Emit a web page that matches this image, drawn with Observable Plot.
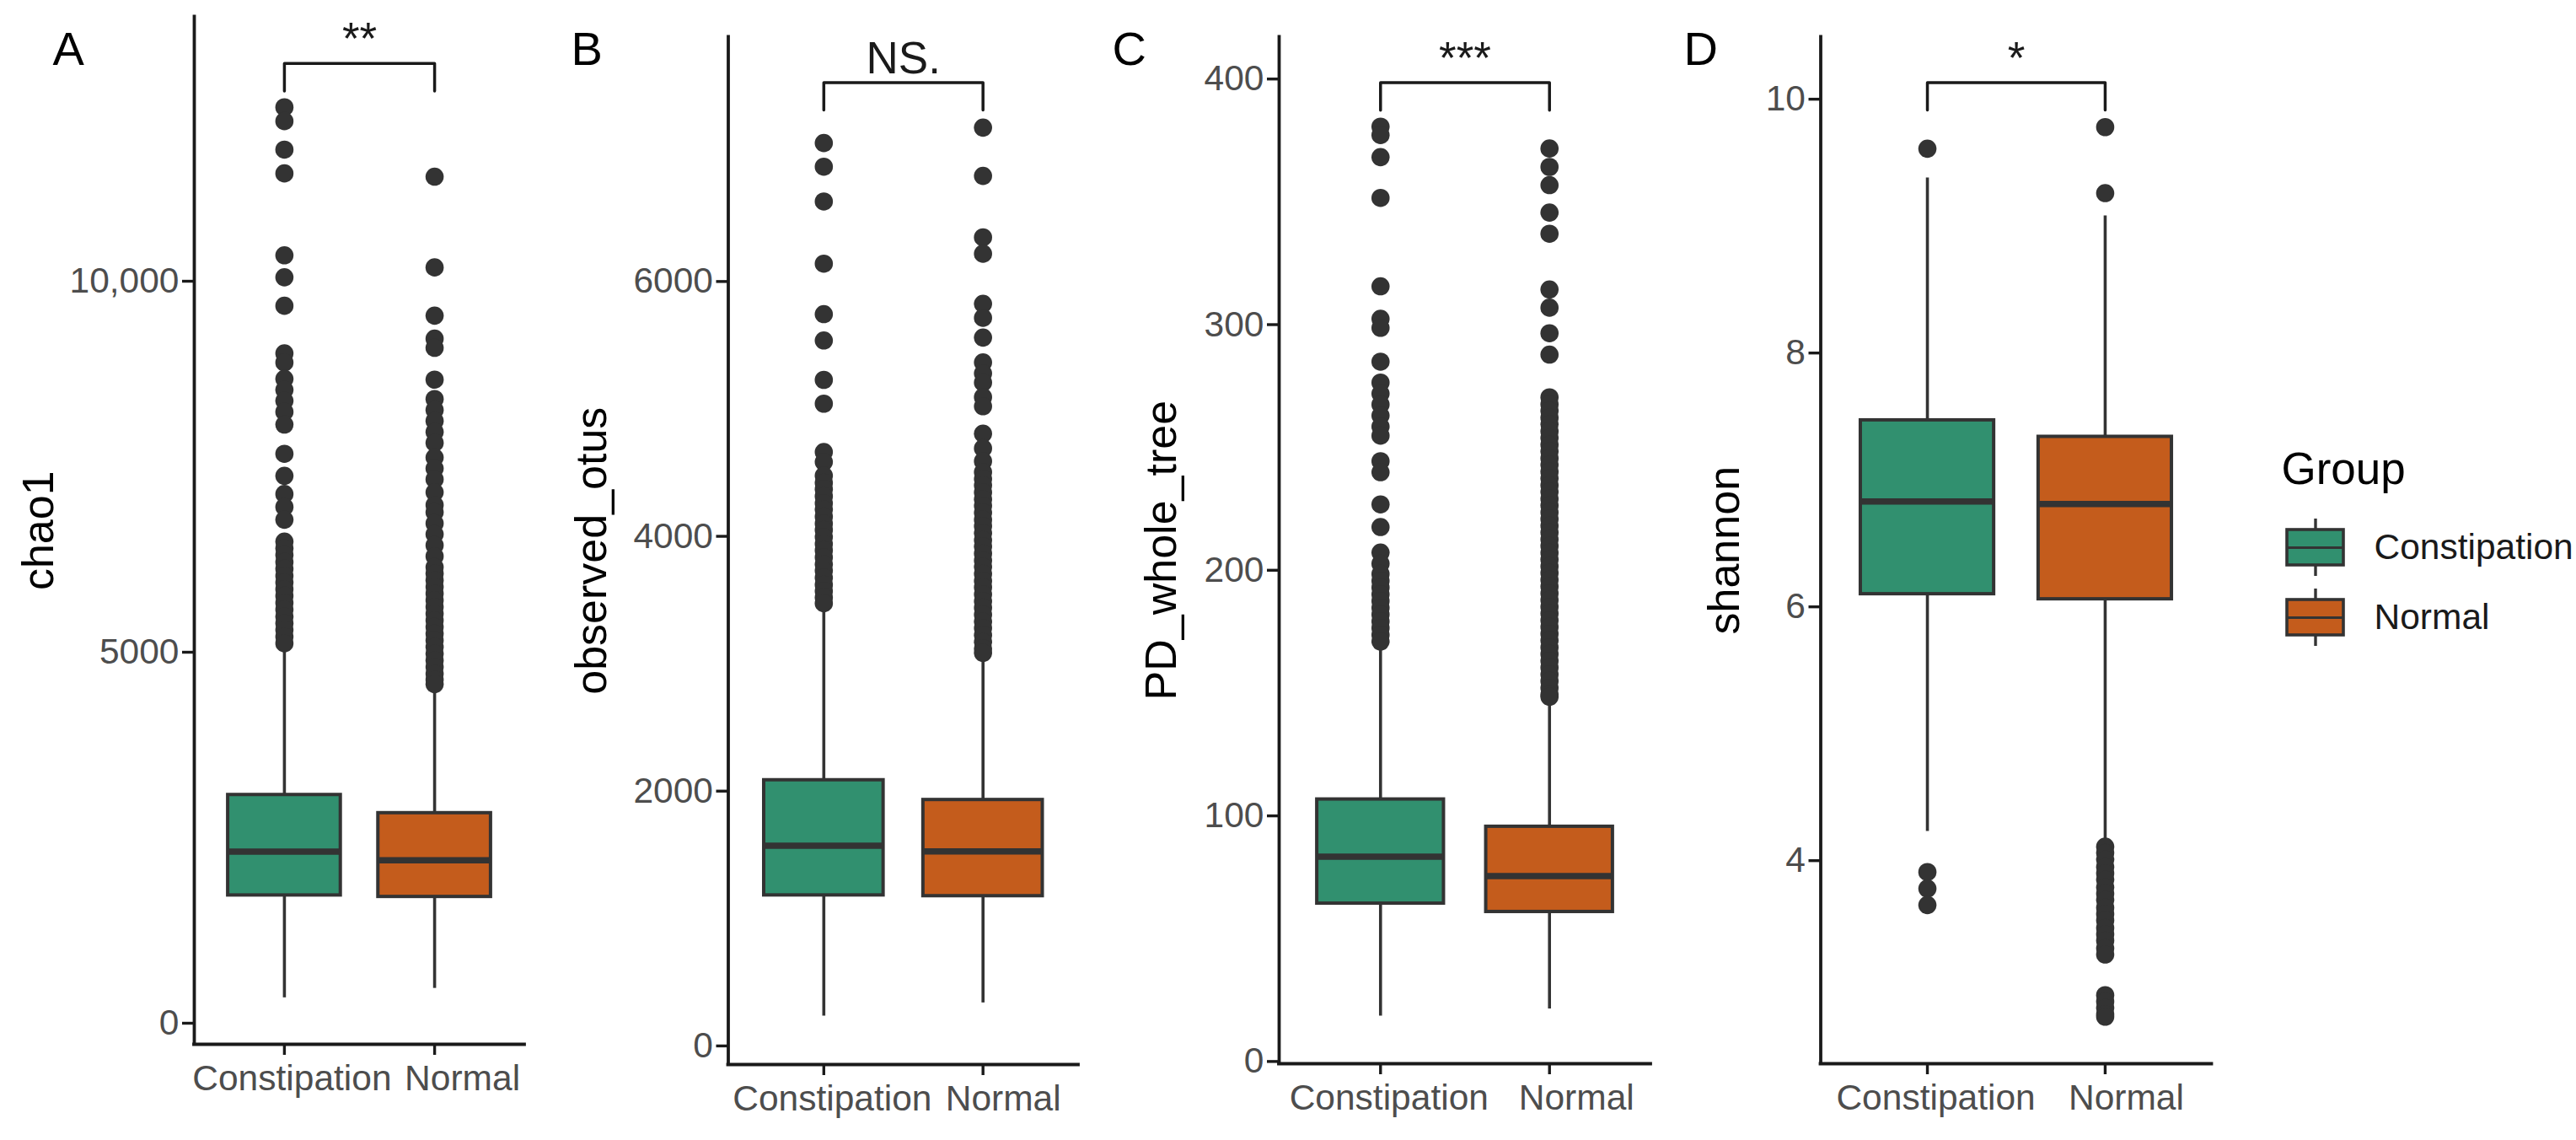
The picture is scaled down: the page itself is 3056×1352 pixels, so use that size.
<!DOCTYPE html>
<html><head><meta charset="utf-8">
<script src="https://cdn.jsdelivr.net/npm/d3@7"></script>
<script src="https://cdn.jsdelivr.net/npm/@observablehq/plot@0.6"></script>
<style>
html,body{margin:0;padding:0;background:#fff;}
#root{position:relative;width:3056px;height:1352px;overflow:hidden;background:#fff;}
#root svg{position:absolute;top:0;}
</style></head><body><div id="root"></div>
<script>
// ---------------- data ----------------
const groups = ["Constipation", "Normal"];
const panelLetters = ["A", "B", "C", "D"];
const metricNames = ["chao1", "observed_otus", "PD_whole_tree", "shannon"];
const sigLabels = ["**", "NS.", "***", "*"];

// [lower whisker, Q1, median, Q3, upper whisker] for Constipation, Normal
const chao1Box = [[343, 1723, 2314, 3077, 5040], [470, 1703, 2195, 2832, 4450]];
const observedBox = [[235, 1182, 1572, 2086, 3440], [338, 1176, 1526, 1931, 3050]];
const pdBox = [[18.5, 64.3, 83.4, 106.7, 169], [21.4, 60.9, 75.5, 95.6, 147]];
const shannonBox = [[4.23, 6.10, 6.83, 7.47, 9.38], [4.17, 6.06, 6.81, 7.34, 9.08]];

// outliers
const chao1OutC = [12345, 12158, 11774, 11453, 10349, 10053, 9669, 9028, 8905, 8684, 8536, 8389, 8240, 8068, 7674, 7377, 7132, 6959, 6786, 6491, 6400, 6310, 6215, 6125, 6030, 5940, 5850, 5760, 5665, 5575, 5480, 5390, 5300, 5210, 5120];
const chao1OutN = [11409, 10186, 9536, 9226, 9102, 8674, 8413, 8265, 8117, 7969, 7822, 7625, 7477, 7330, 7156, 6984, 6886, 6737, 6590, 6442, 6293, 6147, 6060, 5970, 5880, 5790, 5700, 5610, 5520, 5430, 5340, 5250, 5160, 5070, 4980, 4890, 4800, 4710, 4630, 4570];
const observedOutC = [7087, 6901, 6628, 6140, 5744, 5537, 5228, 5041, 4662, 4584, 4476, 4420, 4370, 4315, 4260, 4210, 4155, 4100, 4050, 3995, 3940, 3890, 3835, 3780, 3730, 3675, 3620, 3570, 3520, 3475];
const observedOutN = [7208, 6829, 6347, 6218, 5825, 5715, 5560, 5365, 5279, 5207, 5093, 5021, 4806, 4691, 4590, 4504, 4450, 4400, 4345, 4290, 4240, 4185, 4130, 4080, 4025, 3970, 3920, 3865, 3810, 3760, 3705, 3650, 3600, 3545, 3490, 3440, 3385, 3330, 3280, 3225, 3170, 3120, 3085];
const pdOutC = [380.6, 377.2, 368.2, 351.6, 315.6, 302.4, 298.7, 284.9, 276.4, 271.9, 267.5, 263, 258.5, 254.8, 244.4, 239.9, 226.8, 217.6, 207.2, 202.7, 198.5, 195.7, 193, 190.2, 187.5, 184.7, 182, 179.2, 176.5, 173.7, 171];
const pdOutN = [371.7, 364.2, 356.8, 345.6, 337, 314.3, 306.9, 296.5, 287.8, 270.4, 267.6, 264.9, 262.1, 259.4, 256.6, 253.9, 251.1, 248.4, 245.6, 242.9, 240.1, 237.4, 234.6, 231.9, 229.1, 226.4, 223.6, 220.9, 218.1, 215.4, 212.6, 209.9, 207.1, 204.4, 201.6, 198.9, 196.1, 193.4, 190.6, 187.9, 185.1, 182.4, 179.6, 176.9, 174.1, 171.4, 168.6, 165.9, 163.1, 160.4, 157.6, 154.9, 152.1, 149.4, 148.5];
const shannonOutC = [9.61, 3.91, 3.78, 3.65];
const shannonOutN = [9.78, 9.26, 4.11, 4.06, 4.01, 3.95, 3.90, 3.85, 3.79, 3.74, 3.69, 3.63, 3.58, 3.53, 3.47, 3.42, 3.37, 3.31, 3.26, 2.94, 2.89, 2.84, 2.79, 2.77];

// ticks
const chao1Ticks = [0, 5000, 10000];
const chao1TickLabels = ["0", "5000", "10,000"];
const observedTicks = [0, 2000, 4000, 6000];
const observedTickLabels = ["0", "2000", "4000", "6000"];
const pdTicks = [0, 100, 200, 300, 400];
const pdTickLabels = ["0", "100", "200", "300", "400"];
const shannonTicks = [4, 6, 8, 10];
const shannonTickLabels = ["4", "6", "8", "10"];

// significance brackets (data units)
const bracketTop = [12936, 7561, 398.5, 10.13];
const bracketTip = [12562, 7346, 387.3, 9.914];

// ---------------- styling / layout ----------------
const FONT = "'Liberation Sans', Arial, Helvetica, sans-serif";
const fills = ["#31906F", "#C45C1C"];
const dark = "#333333";
const ink = "#1A1A1A";
const layout = [
  {left: 0,    width: 640, mt: 19.5, mb: 114, ml: 230,   mr: 18,   domain: [-284, 13563], letterDx: -168,   titleDx: -184,   labelDx: [9, 33]},
  {left: 640,  width: 660, mt: 43.4, mb: 90,  ml: 223.5, mr: 21,   domain: [-146, 7919],  letterDx: -186.5, titleDx: -161.5, labelDx: [10, 24]},
  {left: 1300, width: 680, mt: 43.4, mb: 91,  ml: 217,   mr: 22,   domain: [-0.9, 417.1], letterDx: -198,   titleDx: -139,   labelDx: [10, 32]},
  {left: 1980, width: 670, mt: 43.4, mb: 91,  ml: 179.5, mr: 26.5, domain: [2.40, 10.49], letterDx: -162.5, titleDx: -113.5, labelDx: [10, 25]}
];

const root = document.getElementById("root");
const half = 0.375;

function drawPanel(k, box, outC, outN, ticks, tickLabels) {
  const L = layout[k];
  const boxes = groups.map((g, j) => ({g, pos: j + 1, lo: box[j][0], q1: box[j][1], med: box[j][2], q3: box[j][3], hi: box[j][4]}));
  const outs = [
    ...outC.map(v => ({g: groups[0], pos: 1, v})),
    ...outN.map(v => ({g: groups[1], pos: 2, v}))
  ];
  const br = [
    {pos: 1, y: bracketTip[k]}, {pos: 1, y: bracketTop[k]},
    {pos: 2, y: bracketTop[k]}, {pos: 2, y: bracketTip[k]}
  ];
  const labelMarks = groups.map((g, j) =>
    Plot.text([g], {x: j + 1, y: L.domain[0], dx: L.labelDx[j], dy: 24.5, lineAnchor: "top",
      textAnchor: "middle", fontSize: 42.5, fill: "#4D4D4D"}));
  const svg = Plot.plot({
    width: L.width, height: 1352,
    marginTop: L.mt, marginBottom: L.mb, marginLeft: L.ml, marginRight: L.mr,
    style: {fontFamily: FONT, background: "transparent", overflow: "visible", maxWidth: "none"},
    x: {domain: [0.4, 2.6]},
    y: {domain: L.domain},
    color: {domain: groups, range: fills},
    marks: [
      Plot.axisY({ticks, tickFormat: d => tickLabels[ticks.indexOf(d)], tickSize: 14, tickPadding: 4,
        fontSize: 42.5, fill: "#4D4D4D", stroke: ink, strokeWidth: 3.4, label: null}),
      Plot.axisX({ticks: [1, 2], tickFormat: () => "", tickSize: 13, tickPadding: 11,
        fontSize: 42.5, fill: "#4D4D4D", stroke: ink, strokeWidth: 3.4, label: null}),
      ...labelMarks,
      Plot.ruleX([0.4], {stroke: ink, strokeWidth: 3.8, strokeLinecap: "square"}),
      Plot.ruleY([L.domain[0]], {stroke: ink, strokeWidth: 3.8, strokeLinecap: "square"}),
      Plot.ruleX(boxes, {x: "pos", y1: "lo", y2: "q1", stroke: dark, strokeWidth: 3.6}),
      Plot.ruleX(boxes, {x: "pos", y1: "q3", y2: "hi", stroke: dark, strokeWidth: 3.6}),
      Plot.rect(boxes, {x1: d => d.pos - half, x2: d => d.pos + half, y1: "q1", y2: "q3",
        fill: "g", stroke: dark, strokeWidth: 4}),
      Plot.ruleY(boxes, {y: "med", x1: d => d.pos - half, x2: d => d.pos + half, stroke: dark, strokeWidth: 7.5}),
      Plot.dot(outs, {x: "pos", y: "v", r: 10.8, fill: dark}),
      Plot.line(br, {x: "pos", y: "y", stroke: ink, strokeWidth: 3.5}),
      Plot.text([sigLabels[k]], {x: 1.5, y: bracketTop[k], dy: -11, lineAnchor: "bottom", fontSize: 53, fill: ink}),
      Plot.text([panelLetters[k]], {frameAnchor: "top-left", dx: L.letterDx, dy: 76 - L.mt,
        lineAnchor: "bottom", textAnchor: "start", fontSize: 56, fill: "#000"}),
      Plot.text([metricNames[k]], {frameAnchor: "left", dx: L.titleDx, rotate: -90,
        textAnchor: "middle", lineAnchor: "middle", fontSize: 52, fill: "#000"})
    ]
  });
  svg.style.left = L.left + "px";
  root.appendChild(svg);
}

drawPanel(0, chao1Box, chao1OutC, chao1OutN, chao1Ticks, chao1TickLabels);
drawPanel(1, observedBox, observedOutC, observedOutN, observedTicks, observedTickLabels);
drawPanel(2, pdBox, pdOutC, pdOutN, pdTicks, pdTickLabels);
drawPanel(3, shannonBox, shannonOutC, shannonOutN, shannonTicks, shannonTickLabels);

// legend
const legend = Plot.plot({
  width: 406, height: 1352, margin: 0,
  style: {fontFamily: FONT, background: "transparent", overflow: "visible", maxWidth: "none"},
  x: {domain: [0, 1], range: [63, 130], axis: null},
  y: {type: "band", domain: groups, range: [627, 754], paddingInner: 0.488, paddingOuter: 0, axis: null},
  color: {domain: groups, range: fills},
  marks: [
    Plot.tickX(groups, {x: 0.5, y: d => d, insetTop: -13, insetBottom: -13, stroke: dark, strokeWidth: 3.4}),
    Plot.barX(groups, {x1: 0, x2: 1, y: d => d, fill: d => d, stroke: dark, strokeWidth: 3.6}),
    Plot.ruleY(groups, {y: d => d, x1: 0, x2: 1, stroke: dark, strokeWidth: 3.2}),
    Plot.text(groups, {x: 1, y: d => d, dx: 36, textAnchor: "start", fontSize: 42.5, fill: ink}),
    Plot.text(["Group"], {frameAnchor: "top-left", dx: 56, dy: 573, lineAnchor: "bottom", textAnchor: "start", fontSize: 53, fill: "#000"})
  ]
});
legend.style.left = "2650px";
root.appendChild(legend);
</script>
</body></html>
